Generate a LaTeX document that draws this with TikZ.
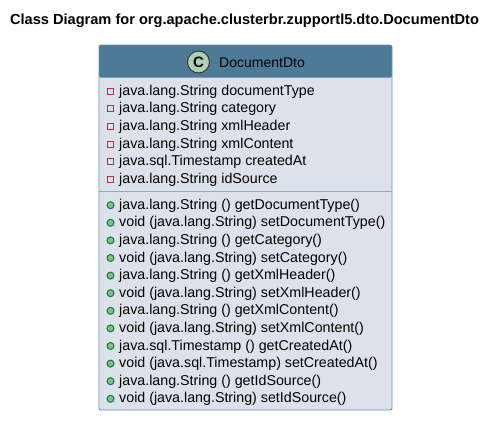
\documentclass[tikz,border=0pt]{standalone}
\usepackage{fontspec}
\setmainfont{Liberation Sans}
\definecolor{headblue}{HTML}{4D7A97}
\definecolor{bodygrey}{HTML}{DDE2EA}
\definecolor{edgeblue}{HTML}{6F93AE}
\definecolor{spotgreen}{HTML}{ADD1B2}
\definecolor{privred}{HTML}{C82930}
\definecolor{pubfill}{HTML}{84BE84}
\definecolor{pubdraw}{HTML}{038048}
\tikzset{
  member/.style={anchor=west,inner sep=0pt,font=\fontsize{14.25}{16}\selectfont},
  privmark/.style={draw=privred,line width=1pt,minimum size=6pt,inner sep=0pt},
  pubmark/.style={circle,draw=pubdraw,fill=pubfill,line width=1pt,minimum size=7pt,inner sep=0pt},
}
\begin{document}
\begin{tikzpicture}[x=1pt,y=-1pt]
   \useasboundingbox (0,0) rectangle (497,423);
   % class box
   \fill[bodygrey,rounded corners=2pt] (99,45) rectangle (392,410);
   \fill[headblue,rounded corners=2pt] (99,45) -- (392,45) -- (392,77.5) -- (99,77.5) -- cycle;
   \draw[edgeblue,line width=0.9pt,rounded corners=2pt] (99,45) rectangle (392,410);
   \coordinate (divl) at (99,191.5);
   \coordinate (divr) at (392,191.5);
   \draw[edgeblue!70!bodygrey,line width=0.9pt] (divl) -- (divr);
   % title and header
   \node[font=\bfseries\fontsize{14.6}{16}\selectfont,inner sep=0pt] (title) at (244.5,20.5) {Class Diagram for org.apache.clusterbr.zupportl5.dto.DocumentDto};
   \node[circle,draw=black!78,fill=spotgreen,line width=1pt,minimum size=22pt,inner sep=0pt,font=\bfseries\fontsize{15}{16}\selectfont] (spot) at (198.5,62) {C};
   \node[anchor=west,inner sep=0pt,font=\fontsize{14}{16}\selectfont] (classname) at (219,62.5) {DocumentDto};
   % attributes
   \begin{scope}[every node/.style={member}]
    \node (a1) at (119,91.5) {java.lang.String documentType};
    \node (a2) at (119,109.2) {java.lang.String category};
    \node (a3) at (119,126.9) {java.lang.String xmlHeader};
    \node (a4) at (119,144.6) {java.lang.String xmlContent};
    \node (a5) at (119,162.3) {java.sql.Timestamp createdAt};
    \node (a6) at (119,180) {java.lang.String idSource};
   \end{scope}
   \foreach \y [count=\i] in {91,108.7,126.4,144.1,161.8,179.5}
    \node[privmark] (am\i) at (110.5,\y) {};
   % methods
   \begin{scope}[every node/.style={member}]
    \node (m1) at (119,205.7) {java.lang.String () getDocumentType()};
    \node (m2) at (119,223.3) {void (java.lang.String) setDocumentType()};
    \node (m3) at (119,240.9) {java.lang.String () getCategory()};
    \node (m4) at (119,258.5) {void (java.lang.String) setCategory()};
    \node (m5) at (119,276.1) {java.lang.String () getXmlHeader()};
    \node (m6) at (119,293.7) {void (java.lang.String) setXmlHeader()};
    \node (m7) at (119,311.3) {java.lang.String () getXmlContent()};
    \node (m8) at (119,328.9) {void (java.lang.String) setXmlContent()};
    \node (m9) at (119,346.5) {java.sql.Timestamp () getCreatedAt()};
    \node (m10) at (119,364.1) {void (java.sql.Timestamp) setCreatedAt()};
    \node (m11) at (119,381.7) {java.lang.String () getIdSource()};
    \node (m12) at (119,399.3) {void (java.lang.String) setIdSource()};
   \end{scope}
   \foreach \y [count=\i] in {205.2,222.8,240.4,258,275.6,293.2,310.8,328.4,346,363.6,381.2,398.8}
    \node[pubmark] (mm\i) at (110.5,\y) {};
\end{tikzpicture}
\end{document}
